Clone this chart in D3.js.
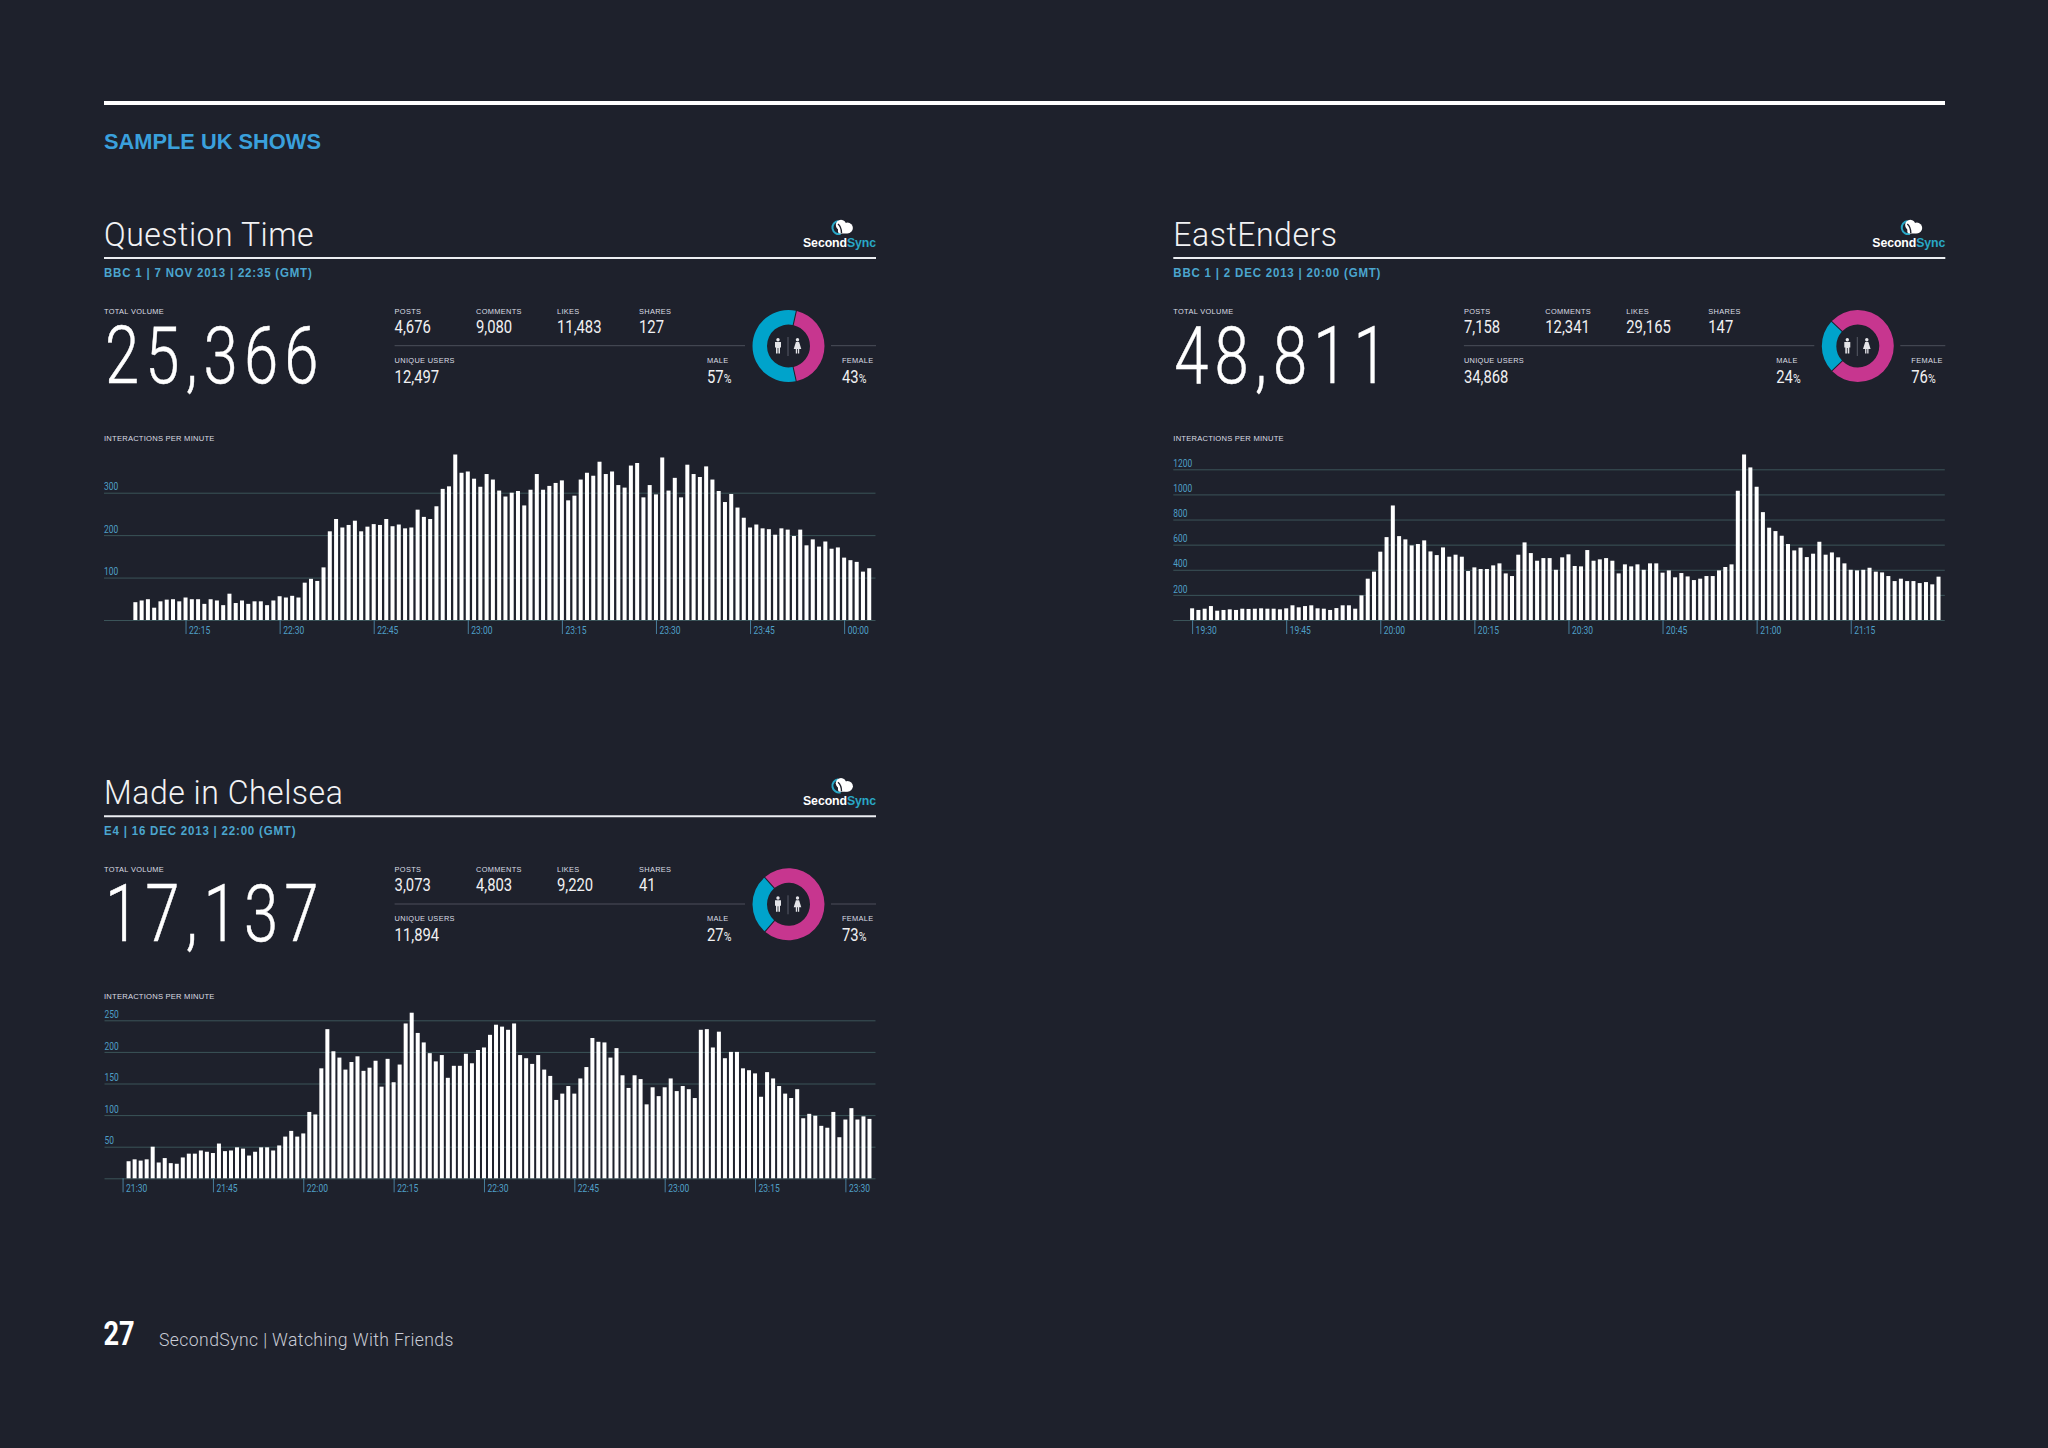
<!DOCTYPE html>
<html>
<head>
<meta charset="utf-8">
<title>SecondSync sample UK shows</title>
<script src="https://cdn.jsdelivr.net/npm/d3@7"></script>
<style>
  html, body { margin: 0; padding: 0; background: #1e212c; }
  svg { display: block; }
</style>
</head>
<body>
<div id="chart"></div>
<script>
// Question Time
const qtBars = [42,46,49,29,44,48,49,44,53,49,49,38,49,46,35,62,40,46,38,44,44,35,46,56,53,57,53,88,97,92,124,209,238,218,224,234,209,220,226,224,238,221,225,216,218,260,243,238,268,309,315,390,347,350,333,314,344,
  331,305,291,300,304,270,307,344,307,316,323,329,282,293,331,347,340,373,344,350,318,312,364,370,289,318,296,383,305,335,289,366,344,337,362,331,304,278,297,265,241,218,225,216,214,201,216,213,198,213,176,190,173,185,168,171,147,141,137,114,122];
const qtYTicks = [0,100,200,300];
const qtTimes = ["22:15","22:30","22:45","23:00","23:15","23:30","23:45","00:00"];
const qtStats = ["4,676","9,080","11,483","127"];
const qtUsers = "12,497";
const qtTotal = "25,366";
const qtGender = [57,43];

// EastEnders
const eeBars = [93,80,90,111,74,80,85,80,90,88,90,93,90,90,85,93,117,101,111,117,93,90,80,95,117,117,90,196,329,385,544,660,912,668,642,594,605,634,546,517,578,504,520,504,390,419,406,406,435,451,371,350,520,618,533,472,493,493,400,
  499,523,430,427,557,472,483,493,472,371,443,427,443,400,451,451,377,395,340,374,347,318,329,350,350,395,422,443,1029,1318,1215,1061,859,735,708,671,605,554,576,501,528,623,520,538,499,451,400,395,400,416,385,379,350,310,329,310,310,294,302,284,345];
const eeYTicks = [0,200,400,600,800,1000,1200];
const eeTimes = ["19:30","19:45","20:00","20:15","20:30","20:45","21:00","21:15"];
const eeStats = ["7,158","12,341","29,165","147"];
const eeUsers = "34,868";
const eeTotal = "48,811";
const eeGender = [24,76];

// Made in Chelsea
const micBars = [27,30,28,30,50,25,32,24,23,33,39,39,44,42,40,55,43,44,49,47,36,42,49,49,44,52,66,75,66,71,105,101,174,236,201,191,172,184,193,170,175,186,145,189,152,180,245,262,230,215,198,185,195,159,178,178,197,182,203,207,227,
  243,240,235,245,195,190,181,195,172,162,124,134,146,134,158,176,222,216,215,191,206,163,143,163,157,117,144,130,144,158,138,146,141,127,235,236,207,232,190,200,200,174,171,166,129,168,158,146,134,127,141,95,102,99,83,80,105,65,93,111,93,98,94];
const micYTicks = [0,50,100,150,200,250];
const micTimes = ["21:30","21:45","22:00","22:15","22:30","22:45","23:00","23:15","23:30"];
const micStats = ["3,073","4,803","9,220","41"];
const micUsers = "11,894";
const micTotal = "17,137";
const micGender = [27,73];

const statLabels = ["POSTS","COMMENTS","LIKES","SHARES"];

const cyan = "#00a3cb", pink = "#c7368f", blue = "#4ba6cf", tickBlue = "#4f9fc6";
const thin = "Roboto, sans-serif", plain = "'Liberation Sans', Arial, sans-serif";

const svg = d3.select("#chart").append("svg")
  .attr("width", 2048).attr("height", 1448).attr("viewBox", "0 0 2048 1448");

// text with horizontal squeeze, most of the source type is condensed
function put(g, x, y, str, o) {
  const t = g.append("text")
    .attr("transform", `translate(${x},${y}) scale(${o.sx || 1},1)`)
    .attr("font-family", o.font || plain)
    .attr("font-size", o.size)
    .attr("font-weight", o.weight || 400)
    .attr("fill", o.fill || "#fff")
    .text(str);
  if (o.ls) t.attr("letter-spacing", o.ls);
  return t;
}

function smallCap(g, x, y, str) {
  return put(g, x, y, str, { size: 7.4, fill: "#dcdee4", ls: 0.33, weight: 400 });
}

function drawLogo(g) {
  const c = g.append("g").attr("transform", "translate(732,0)");
  c.append("path").attr("d", d3.arc()({ innerRadius: 5.6, outerRadius: 7.6, startAngle: -3.4, endAngle: -0.1 }))
    .attr("transform", "translate(107,227.5)").attr("fill", "#29a7c6");
  c.append("circle").attr("cx", 109).attr("cy", 225).attr("r", 5.2).attr("fill", "#fff");
  c.append("circle").attr("cx", 115.5).attr("cy", 228).attr("r", 5.4).attr("fill", "#fff");
  c.append("rect").attr("x", 106).attr("y", 226).attr("width", 10).attr("height", 7.4).attr("rx", 2).attr("fill", "#fff");
  c.append("path").attr("d", "M106,224 q3.5,3 3.5,9").attr("stroke", "#1e212c").attr("stroke-width", 1.4).attr("fill", "none");
  const t = put(g, 803, 247, "Second", { size: 13, weight: 700, ls: -0.1 });
  t.attr("textLength", 73).attr("lengthAdjust", "spacingAndGlyphs");
  t.append("tspan").attr("fill", "#29a7c6").text("Sync");
}

function drawGenderIcons(g, cx, cy) {
  const male = g.append("g").attr("transform", `translate(${cx - 10.5},${cy})`).attr("fill", "#e4e4e8");
  male.append("circle").attr("cy", -6.3).attr("r", 1.7);
  male.append("path").attr("d", "M-3,-4 H3 V1.5 H2 V7.5 H0.4 V2 H-0.4 V7.5 H-2 V1.5 H-3 Z");
  const fem = g.append("g").attr("transform", `translate(${cx + 9},${cy})`).attr("fill", "#e4e4e8");
  fem.append("circle").attr("cy", -6.3).attr("r", 1.7);
  fem.append("path").attr("d", "M-1.6,-4 H1.6 L3.8,3 H1.7 V7.5 H0.4 V3 H-0.4 V7.5 H-1.7 V3 H-3.8 Z");
  g.append("line").attr("x1", cx - 0.5).attr("x2", cx - 0.5).attr("y1", cy - 9).attr("y2", cy + 10)
    .attr("stroke", "#565a66").attr("stroke-width", 1);
}

function drawDonut(g, cx, cy, gender) {
  const start = Math.PI / 2 - gender[1] / 100 * Math.PI;
  const pie = d3.pie().sort(null).startAngle(start).endAngle(start + 2 * Math.PI)
    .padAngle(0.025)([gender[1], gender[0]]);
  const arc = d3.arc().innerRadius(21.5).outerRadius(36);
  g.append("g").attr("transform", `translate(${cx},${cy})`)
    .selectAll("path").data(pie).join("path")
    .attr("d", arc)
    .attr("fill", (d, i) => i == 0 ? pink : cyan);
  drawGenderIcons(g, cx, cy);
}

function pct(g, x, y, v) {
  const t = put(g, x, y, v, { font: thin, size: 19, sx: 0.78, weight: 400, fill: "#f0f0f2" });
  t.append("tspan").attr("font-size", 13.5).text("%");
}

function toMinutes(s, first) {
  const p = s.split(":");
  let m = +p[0] * 60 + +p[1];
  if (first != null && m < first) m += 1440;
  return m;
}

function drawBars(g, bars, yTicks, times, start, firstBar, left, right, top) {
  const firstMin = toMinutes(firstBar);
  const startMin = toMinutes(start);
  const span = bars.length + (firstMin - startMin);
  const x = d3.scaleLinear().domain([startMin, startMin + span]).range([left, right]);
  const yMax = d3.max(yTicks);
  const y = d3.scaleLinear().domain([0, yMax]).range([620, top]);

  // gridlines and y labels sit on the axis, labels just above each line
  const yAxis = d3.axisRight(y).tickValues(yTicks).tickSize(right - left).tickFormat(d => d || "");
  const ya = g.append("g").attr("transform", `translate(${left},0)`).call(yAxis);
  ya.select(".domain").remove();
  ya.selectAll("line").attr("stroke", "#3b5459").attr("stroke-width", 1);
  ya.selectAll("text")
    .attr("x", 0).attr("dy", -2.8)
    .attr("transform", "scale(0.8,1)")
    .attr("text-anchor", "start")
    .attr("font-family", thin).attr("font-size", 10.5).attr("fill", tickBlue);

  g.append("g").selectAll("rect").data(bars).join("rect")
    .attr("x", (d, i) => x(firstMin + i) - 2)
    .attr("width", 4)
    .attr("y", d => y(d))
    .attr("height", d => 620 - y(d))
    .attr("fill", "#fff");

  // time axis, each label hangs to the right of its tick
  const tickMins = times.map(s => toMinutes(s, startMin));
  const xAxis = d3.axisBottom(x).tickValues(tickMins).tickSize(14)
    .tickFormat((d, i) => times[i]);
  const xa = g.append("g").attr("transform", "translate(0,620)").call(xAxis);
  xa.select(".domain").remove();
  xa.selectAll("line").attr("stroke", "#4a7f9c").attr("stroke-width", 1);
  xa.selectAll("text")
    .attr("y", 0).attr("dy", 14)
    .attr("transform", "translate(3,0) scale(0.74,1)")
    .attr("text-anchor", "start")
    .attr("font-family", thin).attr("font-size", 11.5).attr("fill", tickBlue);
}

function drawPanel(dx, dy, title, sub, total, stats, users, gender, bars, yTicks, times, start, firstBar, top, left) {
  const g = svg.append("g").attr("transform", `translate(${dx},${dy})`);

  put(g, 104, 246, title, { font: thin, size: 33.5, weight: 300, fill: "#f2f2f4", ls: 0.55, sx: 0.955 });
  drawLogo(g);
  g.append("line").attr("x1", 104).attr("x2", 876).attr("y1", 258).attr("y2", 258)
    .attr("stroke", "#eceef2").attr("stroke-width", 2);
  put(g, 104, 277, sub, { size: 12.5, weight: 700, fill: blue, ls: 0.88, sx: 0.92 });

  smallCap(g, 104, 313.7, "TOTAL VOLUME");
  put(g, 105, 383, total, { font: thin, size: 80, weight: 300, sx: 0.77, ls: 8 })
    .attr("stroke", "#fff").attr("stroke-width", 0.5);

  const statX = [394.6, 476, 557, 639];
  statLabels.forEach((s, i) => {
    smallCap(g, statX[i], 313.7, s);
    put(g, statX[i], 333, stats[i], { font: thin, size: 19, sx: 0.78, fill: "#f0f0f2" });
  });
  g.append("line").attr("x1", 394.6).attr("x2", 745).attr("y1", 345.7).attr("y2", 345.7)
    .attr("stroke", "#4c4f5a");
  g.append("line").attr("x1", 831).attr("x2", 876).attr("y1", 345.7).attr("y2", 345.7)
    .attr("stroke", "#4c4f5a");
  smallCap(g, 394.6, 363, "UNIQUE USERS");
  put(g, 394.6, 382.7, users, { font: thin, size: 19, sx: 0.78, fill: "#f0f0f2" });

  smallCap(g, 707, 363, "MALE");
  pct(g, 707, 382.7, gender[0]);
  smallCap(g, 842, 363, "FEMALE");
  pct(g, 842, 382.7, gender[1]);
  drawDonut(g, 788.5, 346, gender);

  put(g, 104, 440.5, "INTERACTIONS PER MINUTE", { size: 7.6, fill: "#dcdee4", ls: 0.22, weight: 400 });
  drawBars(g, bars, yTicks, times, start, firstBar, left, 875.5, top);
}

// page furniture
svg.append("rect").attr("x", 104).attr("y", 101).attr("width", 1841).attr("height", 4).attr("fill", "#fff");
put(svg, 104, 148.5, "SAMPLE UK SHOWS", { size: 22.5, weight: 700, fill: "#3aa0dc", sx: 0.97 });

drawPanel(0, 0, "Question Time", "BBC 1 | 7 NOV 2013 | 22:35 (GMT)", qtTotal, qtStats, qtUsers, qtGender,
  qtBars, qtYTicks, qtTimes, "22:02", "22:07", 492.7, 104);
drawPanel(1069.3, 0, "EastEnders", "BBC 1 | 2 DEC 2013 | 20:00 (GMT)", eeTotal, eeStats, eeUsers, eeGender,
  eeBars, eeYTicks, eeTimes, "19:27", "19:30", 469.3, 104);
drawPanel(0, 558.3, "Made in Chelsea", "E4 | 16 DEC 2013 | 22:00 (GMT)", micTotal, micStats, micUsers, micGender,
  micBars, micYTicks, micTimes, "21:27", "21:31", 462, 104.5);

put(svg, 103.5, 1344.7, "27", { font: thin, size: 34, weight: 700, sx: 0.8 });
put(svg, 159, 1346, "SecondSync | Watching With Friends", { font: thin, size: 17.6, weight: 300, fill: "#c9ccd6", ls: 0.4 });
</script>
</body>
</html>
